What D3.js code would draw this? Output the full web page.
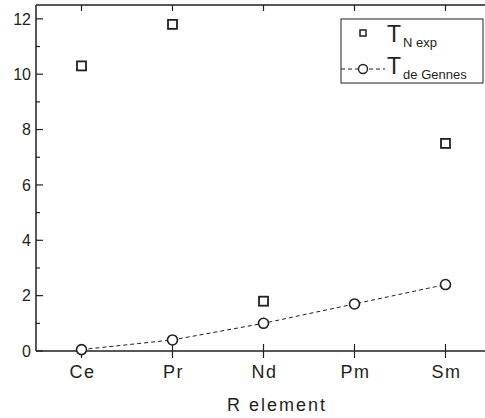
<!DOCTYPE html>
<html>
<head>
<meta charset="utf-8">
<script src="https://cdn.jsdelivr.net/npm/d3@7"></script>
<style>
  body { margin: 0; background: #fff; }
  text { font-family: "Liberation Sans", Arial, sans-serif; fill: #231f20; }
</style>
</head>
<body>
<div id="chart"></div>
<script>
// Data
const elements = ["Ce", "Pr", "Nd", "Pm", "Sm"];
const tNexp = [10.3, 11.8, 1.8, null, 7.5];
const tDeGennes = [0.05, 0.4, 1.0, 1.7, 2.4];
const yTicks = [0, 2, 4, 6, 8, 10, 12];
const yMinor = [1, 3, 5, 7, 9, 11];

const width = 485, height = 418;
const plotLeft = 36, plotTop = 5, plotBottom = 351, plotRight = 491;
const ink = "#231f20";

const svg = d3.select("#chart").append("svg")
    .attr("width", width)
    .attr("height", height);

const x = d3.scaleBand().domain(elements).range([plotLeft, plotRight]);
const cx = d => x(d) + x.bandwidth() / 2;
const y = d3.scaleLinear().domain([0, 12.5]).range([plotBottom, plotTop]);

// Frame lines
svg.append("line").attr("x1", plotLeft).attr("x2", plotRight).attr("y1", plotBottom).attr("y2", plotBottom)
    .attr("stroke", ink).attr("stroke-width", 1.5);
svg.append("line").attr("x1", plotLeft).attr("x2", plotRight).attr("y1", plotTop).attr("y2", plotTop)
    .attr("stroke", ink).attr("stroke-width", 1.5);
svg.append("line").attr("x1", plotLeft).attr("x2", plotLeft).attr("y1", plotTop).attr("y2", plotBottom)
    .attr("stroke", ink).attr("stroke-width", 1.5);

// Y ticks (inward)
svg.selectAll(".ytick").data(yTicks).enter().append("line")
    .attr("x1", plotLeft).attr("x2", plotLeft + 7)
    .attr("y1", d => y(d)).attr("y2", d => y(d))
    .attr("stroke", ink).attr("stroke-width", 1.2);
svg.selectAll(".yminor").data(yMinor).enter().append("line")
    .attr("x1", plotLeft).attr("x2", plotLeft + 4)
    .attr("y1", d => y(d)).attr("y2", d => y(d))
    .attr("stroke", ink).attr("stroke-width", 1.2);
svg.selectAll(".ylabel").data(yTicks).enter().append("text")
    .attr("x", plotLeft - 5)
    .attr("y", d => y(d))
    .attr("dy", "0.36em")
    .attr("text-anchor", "end")
    .style("font-size", "16px")
    .text(d => d);

// X ticks (crossing bottom axis, inward on top)
svg.selectAll(".xtick").data(elements).enter().append("line")
    .attr("x1", d => cx(d)).attr("x2", d => cx(d))
    .attr("y1", plotBottom - 7).attr("y2", plotBottom + 7)
    .attr("stroke", ink).attr("stroke-width", 1.2);
svg.selectAll(".xtickTop").data(elements).enter().append("line")
    .attr("x1", d => cx(d)).attr("x2", d => cx(d))
    .attr("y1", plotTop).attr("y2", plotTop + 6)
    .attr("stroke", ink).attr("stroke-width", 1.2);
svg.selectAll(".xlabel").data(elements).enter().append("text")
    .attr("x", d => cx(d) + 1)
    .attr("y", plotBottom + 27)
    .attr("text-anchor", "middle")
    .style("font-size", "18px")
    .style("letter-spacing", "1.5px")
    .text(d => d);

svg.append("text")
    .attr("x", 277)
    .attr("y", 411)
    .attr("text-anchor", "middle")
    .style("font-size", "18px")
    .style("letter-spacing", "2px")
    .text("R element");

// de Gennes dashed line + circles
const deG = elements.map((e, i) => ({e: e, v: tDeGennes[i]}));
svg.append("path")
    .datum(deG)
    .attr("fill", "none")
    .attr("stroke", ink)
    .attr("stroke-width", 1)
    .attr("stroke-dasharray", "4,3")
    .attr("d", d3.line().x(d => cx(d.e)).y(d => y(d.v)));
svg.selectAll(".circ").data(deG).enter().append("circle")
    .attr("cx", d => cx(d.e)).attr("cy", d => y(d.v))
    .attr("r", 5)
    .attr("fill", "#fff")
    .attr("stroke", ink)
    .attr("stroke-width", 1.6);

// Experimental squares
const exp = elements.map((e, i) => ({e: e, v: tNexp[i]})).filter(d => d.v !== null);
svg.selectAll(".sq").data(exp).enter().append("rect")
    .attr("x", d => cx(d.e) - 4.5).attr("y", d => y(d.v) - 4.5)
    .attr("width", 9).attr("height", 9)
    .attr("fill", "#fff")
    .attr("stroke", ink)
    .attr("stroke-width", 1.8);

// Legend
const lg = svg.append("g").attr("transform", "translate(341,19)");
lg.append("rect").attr("x", 0).attr("y", 0).attr("width", 142).attr("height", 64)
    .attr("fill", "#fff").attr("stroke", ink).attr("stroke-width", 1);
lg.append("rect").attr("x", 19).attr("y", 11).attr("width", 6).attr("height", 6)
    .attr("fill", "#fff").attr("stroke", ink).attr("stroke-width", 1.5);
lg.append("line").attr("x1", 0).attr("x2", 44).attr("y1", 50).attr("y2", 50)
    .attr("stroke", ink).attr("stroke-width", 1).attr("stroke-dasharray", "4,3");
lg.append("circle").attr("cx", 22).attr("cy", 50).attr("r", 4.5)
    .attr("fill", "#fff").attr("stroke", ink).attr("stroke-width", 1.4);

const t1 = lg.append("text").attr("x", 46).attr("y", 23).style("font-size", "23px");
t1.append("tspan").text("T");
t1.append("tspan").attr("dy", 5).attr("dx", 2).style("font-size", "13px").text("N exp");
const t2 = lg.append("text").attr("x", 46).attr("y", 55).style("font-size", "23px");
t2.append("tspan").text("T");
t2.append("tspan").attr("dy", 5).attr("dx", 2).style("font-size", "13px").text("de Gennes");
</script>
</body>
</html>
